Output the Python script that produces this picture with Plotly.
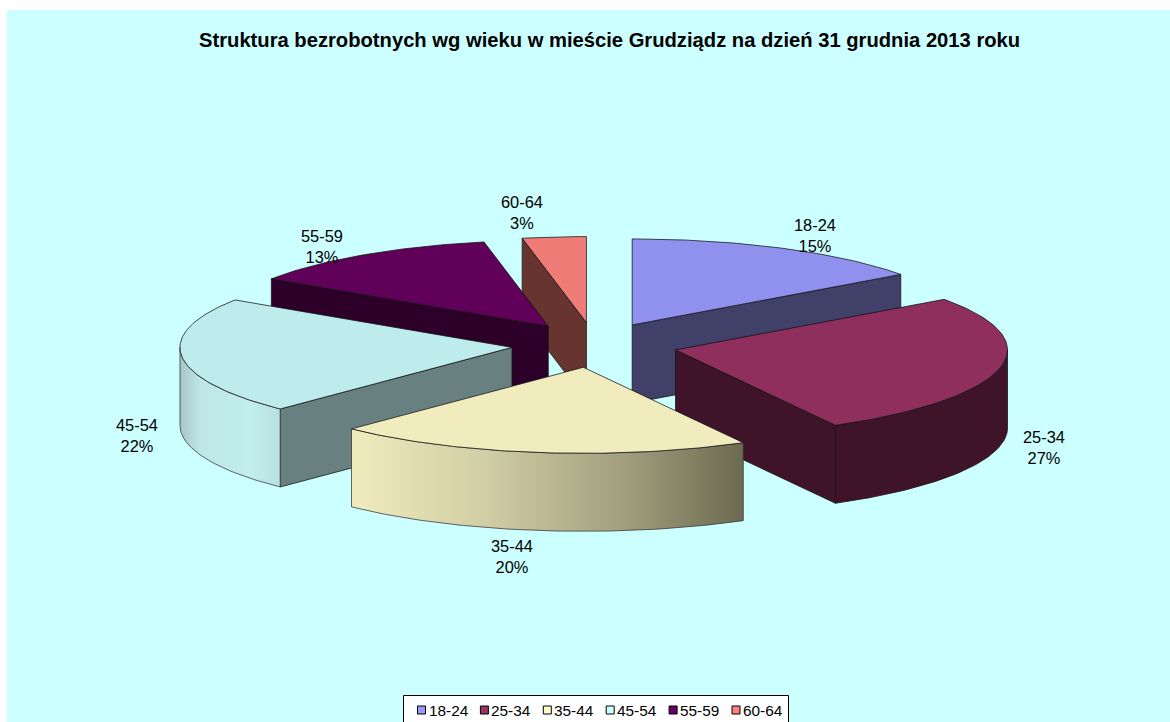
import math
import plotly.graph_objects as go

# ---- data ----
categories = ["18-24", "25-34", "35-44", "45-54", "55-59", "60-64"]
shares = [15.0, 27.0, 20.3, 22.0, 12.6, 3.1]
title_text = "Struktura bezrobotnych wg wieku w mieście Grudziądz na dzień 31 grudnia 2013 roku"

# ---- style ----
legend_colors = ["#9999FF", "#993366", "#FFFFCC", "#CCFFFF", "#660066", "#FF8080"]
top_colors = ["#9090EE", "#8E2F5E", "#F0ECBE", "#BEECEC", "#600058", "#F07C78"]
wall_colors = ["#404068", "#3F1428", "#8A8868", "#688080", "#2C0028", "#683430"]
rim_gradients = [
    None,
    None,
    [[0, "#F0ECBE"], [0.35, "#D0CCA4"], [0.7, "#A09E7C"], [1, "#6C6A50"]],
    [[0, "#A8C6C6"], [0.2, "#BEE6E6"], [0.7, "#C2EEEE"], [1, "#B8E0E0"]],
    None,
    None,
]
draw_order = [0, 5, 4, 3, 1, 2]
label_pos = [(815, 235), (1044, 447), (512, 556), (137, 435), (322, 246), (522, 212)]
FONT = "Liberation Sans, Arial, sans-serif"

# ---- projection of the tilted pie on the page ----
CX, CY, RX, RY, DEPTH = 594.5, 345, 332, 86, 78
EX, EY = 83, 22.5   # explosion distance


def rim_xy(cx, cy, t):
    return cx + RX * math.sin(t), cy - RY * math.cos(t)


def arc(cx, cy, a, b, drop=0):
    n = max(2, int(abs(b - a) * 60))
    pts = [rim_xy(cx, cy, a + (b - a) * i / n) for i in range(n + 1)]
    return [(x, y + drop) for x, y in pts]


fig = go.Figure()


def poly(pts, fill=None, gradient=None, line="#111111", width=0.75):
    xs = [p[0] for p in pts] + [pts[0][0]]
    ys = [p[1] for p in pts] + [pts[0][1]]
    kw = dict(fillgradient=dict(type="horizontal", colorscale=gradient)) if gradient else dict(fillcolor=fill)
    fig.add_trace(go.Scatter(x=xs, y=ys, mode="lines", fill="toself",
                             line=dict(color=line, width=width),
                             hoverinfo="skip", showlegend=False, **kw))


total = sum(shares)
spans = []
acc = 0.0
for v in shares:
    spans.append((acc / total * 2 * math.pi, (acc + v) / total * 2 * math.pi))
    acc += v

for i in draw_order:
    t0, t1 = spans[i]
    mid = (t0 + t1) / 2
    cx = CX + EX * math.sin(mid)
    cy = CY - EY * math.cos(mid)
    # radial walls that face the viewer
    if math.sin(t0) < -1e-6:
        p = rim_xy(cx, cy, t0)
        poly([(cx, cy), p, (p[0], p[1] + DEPTH), (cx, cy + DEPTH)], fill=wall_colors[i])
    if math.sin(t1) > 1e-6:
        p = rim_xy(cx, cy, t1)
        poly([(cx, cy), p, (p[0], p[1] + DEPTH), (cx, cy + DEPTH)], fill=wall_colors[i])
    # outer rim, front half only
    a, b = max(t0, math.pi / 2), min(t1, 3 * math.pi / 2)
    if b > a:
        upper = arc(cx, cy, a, b)
        lower = arc(cx, cy, a, b, DEPTH)
        pts = upper + lower[::-1]
        if rim_gradients[i]:
            poly(pts, gradient=rim_gradients[i], line="#333333")
        else:
            poly(pts, fill=wall_colors[i])
    # top face
    poly([(cx, cy)] + arc(cx, cy, t0, t1), fill=top_colors[i])

# legend drawn to the reference's compact spacing
LEG_X0, LEG_PITCH, LEG_Y = 421.5, 62.9, 710
fig.add_trace(go.Scatter(
    x=[LEG_X0 + LEG_PITCH * k for k in range(len(categories))],
    y=[LEG_Y] * len(categories),
    mode="markers",
    marker=dict(symbol="square", size=8, color=legend_colors, line=dict(color="#000000", width=1)),
    hoverinfo="skip", showlegend=False))

annotations = []
for k, name in enumerate(categories):
    annotations.append(dict(x=LEG_X0 + 5.0 + LEG_PITCH * k, y=LEG_Y, text=name, showarrow=False,
                            xanchor="left", yanchor="middle", xref="x", yref="y",
                            font=dict(family=FONT, size=15.4, color="#000000")))
    lx, ly = label_pos[k]
    annotations.append(dict(x=lx, y=ly, text=f"{name}<br>{round(shares[k] / total * 100)}%",
                            showarrow=False, xanchor="center", yanchor="middle", align="center",
                            xref="x", yref="y",
                            font=dict(family=FONT, size=16.4, color="#000000")))
annotations.append(dict(x=609, y=40, text=f"<b>{title_text}</b>", showarrow=False,
                        xanchor="center", yanchor="middle", xref="x", yref="y",
                        font=dict(family=FONT, size=20.2, color="#000000")))

fig.update_layout(
    width=1170, height=722,
    margin=dict(l=0, r=0, t=0, b=0),
    paper_bgcolor="#FFFFFF", plot_bgcolor="#FFFFFF",
    showlegend=False,
    xaxis=dict(range=[0, 1170], visible=False, fixedrange=True),
    yaxis=dict(range=[722, 0], visible=False, fixedrange=True),
    annotations=annotations,
    shapes=[
        dict(type="rect", xref="x", yref="y", x0=7, x1=1170, y0=10, y1=722, layer="below",
             fillcolor="#CCFFFF", line=dict(width=0)),
        dict(type="rect", xref="x", yref="y", x0=403.5, x1=788.5, y0=695.5, y1=730, layer="below",
             fillcolor="#FFFFFF", line=dict(color="#000000", width=1)),
    ],
)
fig.write_html("out.html", config=dict(displayModeBar=False),
               post_script="document.body.style.margin='0';document.body.style.overflow='hidden';")
